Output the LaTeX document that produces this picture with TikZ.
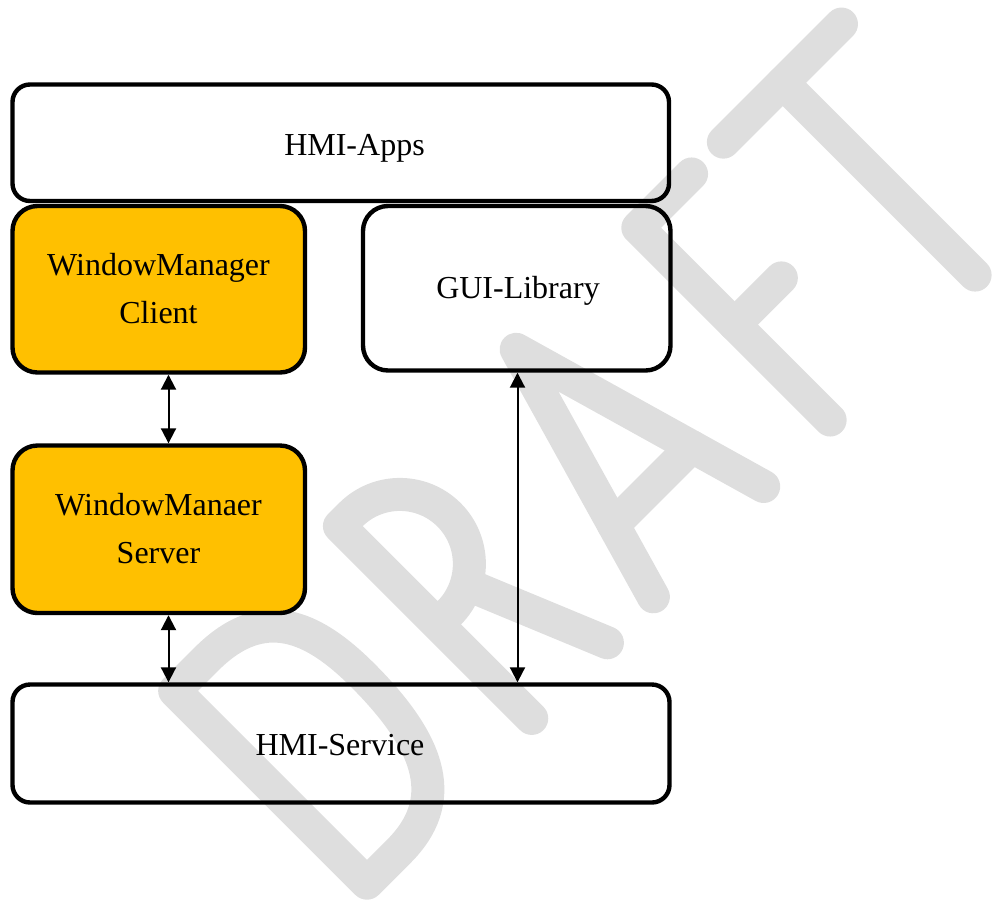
\documentclass[tikz,border=0pt]{standalone}
\usepackage{fontspec}
\setmainfont{Liberation Serif}
\usetikzlibrary{arrows.meta}
\definecolor{wmgray}{RGB}{222,222,222}
\definecolor{amber}{RGB}{255,192,0}
\begin{document}
\begin{tikzpicture}[x=0.5pt,y=0.5pt,
  wmstroke/.style={draw=wmgray, line width=16.5pt, line cap=round, line join=round},
  box/.style={draw=black, line width=2.2pt, rounded corners=#1, inner sep=0pt, fill=none},
  orangebox/.style={box=#1, fill=amber},
  lbl/.style={inner sep=0pt, font=\fontsize{16}{19}\selectfont, anchor=base},
  conn/.style={line width=1pt, {Triangle[width=7.5pt,length=7.5pt]}-{Triangle[width=7.5pt,length=7.5pt]}}
]
\useasboundingbox (0,0) rectangle (999,-906);

% DRAFT watermark
\begin{scope}[rotate=45, yshift=-442pt]
  % D
  \draw[wmstroke] (-365,0) -- (-365,272) -- (-320,272)
     .. controls (-240,272) and (-221,220) .. (-221,150)
     .. controls (-221,50) and (-250,0) .. (-320,0) -- cycle;
  % R
  \draw[wmstroke] (-132,0) -- (-132,272) -- (-116,272)
     arc[start angle=90, end angle=-90, radius=69.5] -- (-132,133);
  \draw[wmstroke] (-80,133) -- (-25,0);
  % A
  \draw[wmstroke] (40,0) -- (118,272) -- (196,0);
  \draw[wmstroke] (62.7,79) -- (173.3,79);
  % F
  \draw[wmstroke] (290,0) -- (290,272) -- (366,272);
  \draw[wmstroke] (290,135) -- (356,135);
  % T
  \draw[wmstroke] (411,272) -- (578,272);
  \draw[wmstroke] (495,272) -- (495,0);
\end{scope}

% boxes
\node[box=8.75pt, minimum width=328.25pt, minimum height=58.25pt] (apps) at (340.75,-142.75) {};
\node[orangebox=12.5pt, minimum width=146.25pt, minimum height=83.25pt] (client) at (158.75,-289.25) {};
\node[box=12.5pt, minimum width=153.75pt, minimum height=82.25pt] (gui) at (516.75,-288.25) {};
\node[orangebox=12.5pt, minimum width=146.25pt, minimum height=83.75pt] (server) at (158.75,-529.25) {};
\node[box=8.8pt, minimum width=328.5pt, minimum height=59pt] (service) at (341,-743.5) {};

% labels
\node[lbl] (tapps) at (354.5,-155) {HMI-Apps};
\node[lbl] (tclient1) at (158.5,-275.5) {WindowManager};
\node[lbl] (tclient2) at (158.5,-323.5) {Client};
\node[lbl] (tgui) at (518,-298) {GUI-Library};
\node[lbl] (tserver1) at (158.5,-515.5) {WindowManaer};
\node[lbl] (tserver2) at (158.5,-563.5) {Server};
\node[lbl] (tservice) at (340,-755) {HMI-Service};

% connectors
\coordinate (lx) at (168.5,0);
\coordinate (rx) at (517.5,0);
\draw[conn] (client.south -| lx) -- (server.north -| lx);
\draw[conn] (server.south -| lx) -- (service.north -| lx);
\draw[conn] (gui.south -| rx) -- (service.north -| rx);
\end{tikzpicture}
\end{document}
